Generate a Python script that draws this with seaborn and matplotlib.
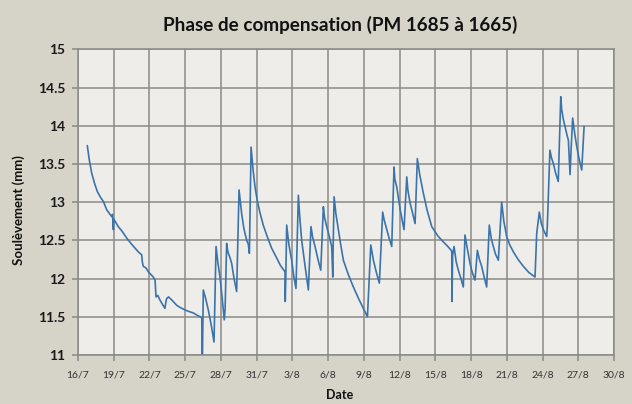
import numpy as np
import pandas as pd
import matplotlib
matplotlib.use("Agg")
import matplotlib.pyplot as plt
import seaborn as sns

# Jours écoulés depuis le 16/7 et soulèvement mesuré (mm)
jours = [
    0.78, 0.95, 1.15, 1.40, 1.62, 1.90, 2.13, 2.41, 2.60, 2.83, 2.90, 2.97, 3.00,
    3.38, 3.70, 4.09, 4.50, 5.06, 5.35, 5.40, 5.48, 5.70, 5.90, 6.32, 6.47, 6.52,
    6.55, 6.70, 6.88, 7.10, 7.30, 7.38, 7.45, 7.60, 7.87, 8.29, 8.60, 8.98, 9.30,
    9.68, 10.00, 10.39, 10.44, 10.52, 10.70, 10.94, 11.20, 11.42, 11.59, 11.75,
    11.92, 12.10, 12.28, 12.35, 12.48, 12.55, 12.62, 12.75, 12.90, 13.10, 13.32,
    13.52, 13.74, 13.90, 14.02, 14.17, 14.30, 14.39, 14.53, 14.70, 14.86, 15.05,
    15.28, 15.55, 15.84, 16.25, 16.68, 17.00, 17.38, 17.40, 17.45, 17.52, 17.70,
    17.94, 18.10, 18.30, 18.50, 18.62, 18.78, 19.05, 19.34, 19.56, 19.70, 19.90,
    20.15, 20.38, 20.60, 20.70, 20.88, 21.10, 21.30, 21.39, 21.42, 21.50, 21.65,
    21.86, 22.05, 22.28, 22.70, 23.12, 23.55, 23.96, 24.30, 24.58, 24.70, 24.80,
    25.05, 25.30, 25.58, 25.70, 25.86, 26.10, 26.34, 26.53, 26.60, 26.76, 27.05,
    27.37, 27.60, 27.70, 27.88, 28.10, 28.30, 28.49, 28.70, 28.99, 29.30, 29.70,
    30.20, 30.67, 31.05, 31.38, 31.40, 31.45, 31.57, 31.75, 31.93, 32.15, 32.35,
    32.49, 32.70, 32.91, 33.10, 33.33, 33.53, 33.70, 33.89, 34.10, 34.31, 34.53,
    34.70, 34.87, 35.05, 35.29, 35.57, 35.75, 35.99, 36.25, 36.55, 36.95, 37.39,
    37.85, 38.37, 38.51, 38.73, 38.90, 39.07, 39.35, 39.40, 39.62, 39.75, 39.90,
    40.10, 40.32, 40.53, 40.61, 40.75, 40.89, 41.05, 41.17, 41.31, 41.40, 41.53,
    41.70, 41.87, 42.05, 42.29, 42.49,
]
soulevement = [
    13.74, 13.55, 13.38, 13.24, 13.14, 13.06, 13.01, 12.90, 12.86, 12.81, 12.84, 12.64, 12.78,
    12.68, 12.62, 12.53, 12.45, 12.35, 12.31, 12.22, 12.16, 12.14, 12.09, 12.02, 11.98, 11.85,
    11.76, 11.78, 11.72, 11.66, 11.61, 11.70, 11.74, 11.76, 11.72, 11.65, 11.62, 11.59, 11.57,
    11.55, 11.52, 11.49, 10.90, 11.85, 11.75, 11.59, 11.38, 11.17, 12.42, 12.20,
    12.02, 11.75, 11.46, 11.60, 12.46, 12.38, 12.33, 12.28, 12.20, 12.00, 11.83,
    13.16, 12.85, 12.68, 12.59, 12.50, 12.45, 12.33, 13.72, 13.42, 13.20, 13.02,
    12.86, 12.70, 12.57, 12.40, 12.27, 12.17, 12.09, 11.70, 12.05, 12.70, 12.45,
    12.24, 12.05, 11.87, 13.09, 12.80, 12.50, 12.18, 11.85, 12.68, 12.54, 12.42,
    12.25, 12.11, 12.94, 12.80, 12.68, 12.55, 12.42, 12.02, 12.40, 13.07, 12.85,
    12.64, 12.45, 12.24, 12.05, 11.89, 11.74, 11.61, 11.50, 12.44, 12.33, 12.24,
    12.08, 11.94, 12.87, 12.77, 12.68, 12.54, 12.42, 13.46, 13.30, 13.20, 12.90,
    12.64, 13.33, 13.15, 12.99, 12.85, 12.72, 13.57, 13.35, 13.12, 12.90, 12.68,
    12.56, 12.48, 12.42, 12.36, 11.70, 12.30, 12.42, 12.22, 12.11, 12.00, 11.89,
    12.57, 12.38, 12.20, 12.08, 11.98, 12.37, 12.25, 12.16, 12.02, 11.89, 12.70,
    12.52, 12.42, 12.32, 12.24, 13.00, 12.75, 12.55, 12.44, 12.35, 12.25, 12.16,
    12.08, 12.02, 12.59, 12.87, 12.72, 12.64, 12.55, 12.68, 13.68, 13.58, 13.51,
    13.38, 13.27, 14.38, 14.21, 14.08, 13.99, 13.88, 13.81, 13.36, 13.70, 14.10,
    13.90, 13.73, 13.58, 13.42, 13.99,
]

# Graduations de l'axe des dates (tous les 3 jours) et de l'axe vertical
etiquettes_x = ["16/7", "19/7", "22/7", "25/7", "28/7", "31/7", "3/8", "6/8",
                "9/8", "12/8", "15/8", "18/8", "21/8", "24/8", "27/8", "30/8"]
graduations_y = [11, 11.5, 12, 12.5, 13, 13.5, 14, 14.5, 15]

debut = pd.Timestamp("2010-07-16")
df = pd.DataFrame({
    "Date": debut + pd.to_timedelta(jours, unit="D"),
    "Soulèvement (mm)": soulevement,
})
positions_x = [debut + pd.Timedelta(days=3 * i) for i in range(len(etiquettes_x))]

sns.set_theme(style="white")
plt.rcParams["font.family"] = ["Lato", "DejaVu Sans"]

fond = "#d6d3c8"
zone = "#efede9"
grille = "#8a8a86"

fig = plt.figure(figsize=(6.32, 4.04), dpi=100, facecolor=fond)
ax = fig.add_axes([78 / 632, 1 - 355 / 404, (614 - 78) / 632, (355 - 49.3) / 404])
ax.set_facecolor(zone)

sns.lineplot(data=df, x="Date", y="Soulèvement (mm)", ax=ax,
             estimator=None, sort=False, color="#3b74aa", linewidth=1.2)

ax.set_xlim(positions_x[0], positions_x[-1])
ax.set_ylim(11, 15)
ax.set_xticks(positions_x)
ax.set_xticklabels(etiquettes_x)
ax.set_yticks(graduations_y)
ax.set_yticklabels([f"{v:g}" for v in graduations_y])

ax.grid(True, color=grille, linewidth=1.1)
ax.set_axisbelow(True)
for s in ax.spines.values():
    s.set_color(grille)
    s.set_linewidth(1.1)

ax.tick_params(axis="y", length=4, width=1.1, color=grille, pad=5,
               labelsize=10, labelcolor="#1a1a1a", left=True)
ax.tick_params(axis="x", length=4, width=1.1, color=grille, pad=7,
               labelsize=7.5, labelcolor="#333333", bottom=True)
for t in ax.get_yticklabels():
    t.set_fontweight("bold")

ax.set_xlabel("")
ax.set_ylabel("")
fig.text(340 / 632, 1 - 25 / 404, "Phase de compensation (PM 1685 à 1665)",
         ha="center", va="center", fontsize=13.6, fontweight="bold", color="#111111")
fig.text(19 / 632, 1 - 210 / 404, "Soulèvement (mm)", rotation=90,
         ha="center", va="center", fontsize=9.5, fontweight="bold", color="#111111")
fig.text(340 / 632, 1 - 395 / 404, "Date", ha="center", va="center",
         fontsize=9, fontweight="bold", color="#111111")

fig.savefig("out.png", dpi=100, facecolor=fond)
